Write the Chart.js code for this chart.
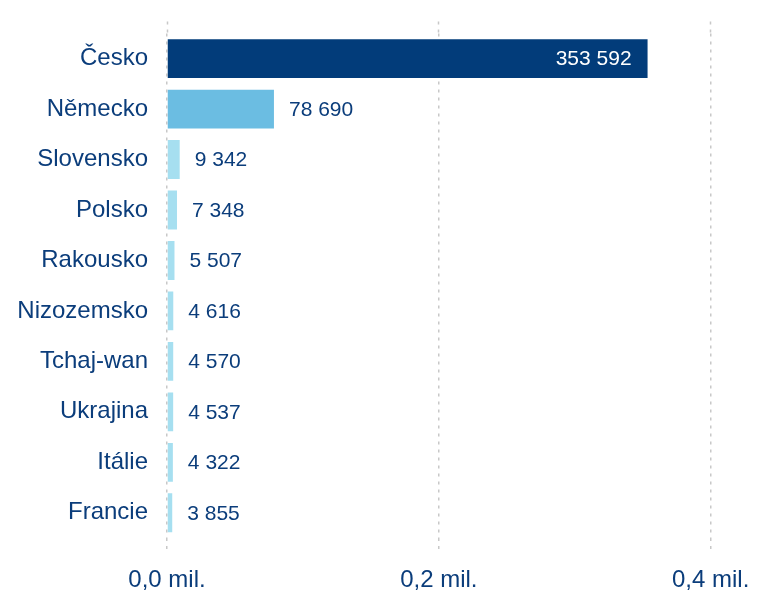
<!DOCTYPE html>
<html>
<head>
<meta charset="utf-8">
<script src="https://cdn.jsdelivr.net/npm/chart.js@4.4.1/dist/chart.umd.min.js"></script>
<style>
  html, body { margin: 0; padding: 0; background: #ffffff; }
  #wrap { width: 780px; height: 592px; }
</style>
</head>
<body>
<div id="wrap"><canvas id="chart"></canvas></div>
<script>
// data
var countries = ['Česko', 'Německo', 'Slovensko', 'Polsko', 'Rakousko', 'Nizozemsko', 'Tchaj-wan', 'Ukrajina', 'Itálie', 'Francie'];
var counts = [353592, 78690, 9342, 7348, 5507, 4616, 4570, 4537, 4322, 3855];
var barColors = ['#023c7a', '#6bbde2', '#a6dff0', '#a6dff0', '#a6dff0', '#a6dff0', '#a6dff0', '#a6dff0', '#a6dff0', '#a6dff0'];
var tickValues = [0, 200000, 400000];

var textColor = '#0b3d7b';
var gridColor = '#c8c8c8';

function fmtNum(n) {
    return String(n).replace(/\B(?=(\d{3})+(?!\d))/g, ' ');
}

function fmtMil(v) {
    return (v / 1000000).toFixed(1).replace('.', ',') + ' mil.';
}

// value labels next to (or inside) the bars
var valueLabels = {
    id: 'valueLabels',
    afterDatasetsDraw: function (chart) {
        var ctx = chart.ctx;
        var meta = chart.getDatasetMeta(0);
        ctx.save();
        ctx.font = '21px "Liberation Sans", Arial, sans-serif';
        ctx.textBaseline = 'middle';
        meta.data.forEach(function (bar, i) {
            var txt = fmtNum(counts[i]);
            if (i === 0) {
                ctx.fillStyle = '#ffffff';
                ctx.textAlign = 'right';
                ctx.fillText(txt, bar.x - 16, bar.y + 1);
            } else {
                ctx.fillStyle = textColor;
                ctx.textAlign = 'left';
                ctx.fillText(txt, bar.x + 15, bar.y + 1);
            }
        });
        ctx.restore();
    }
};

function setTicks(scale) {
    scale.ticks = tickValues.map(function (v) { return { value: v }; });
}

var chartObj = new Chart(document.getElementById('chart'), {
    type: 'bar',
    data: {
        labels: countries,
        datasets: [
            {
                data: counts,
                backgroundColor: barColors,
                borderWidth: 0,
                categoryPercentage: 0.77,
                barPercentage: 1.0
            }
        ]
    },
    plugins: [valueLabels],
    options: {
        indexAxis: 'y',
        responsive: true,
        maintainAspectRatio: false,
        animation: false,
        layout: { padding: { top: 20, right: 15, bottom: 0, left: 0 } },
        plugins: {
            legend: { display: false },
            tooltip: { enabled: false }
        },
        scales: {
            x: {
                position: 'bottom',
                min: 0,
                max: 440000,
                afterBuildTicks: setTicks,
                afterFit: function (scale) { scale.height = 54; },
                border: { display: false, dash: [3, 5] },
                grid: {
                    color: gridColor,
                    lineWidth: 1.5,
                    drawTicks: true,
                    tickLength: 14,
                    tickColor: gridColor,
                    tickWidth: 1.5,
                    tickBorderDash: [3, 5]
                },
                ticks: {
                    padding: 14,
                    autoSkip: false,
                    maxRotation: 0,
                    color: textColor,
                    font: { family: '"Liberation Sans", Arial, sans-serif', size: 24 },
                    callback: function (v) { return fmtMil(v); }
                }
            },
            x2: {
                position: 'top',
                min: 0,
                max: 440000,
                afterBuildTicks: setTicks,
                afterFit: function (scale) { scale.height = 12; },
                border: { display: false },
                grid: {
                    drawOnChartArea: false,
                    drawTicks: true,
                    tickLength: 12,
                    tickColor: gridColor,
                    tickWidth: 1.5,
                    tickBorderDash: [3, 5]
                },
                ticks: {
                    padding: 0,
                    autoSkip: false,
                    callback: function () { return ''; }
                }
            },
            y: {
                afterFit: function (scale) { scale.width = 167; },
                border: { display: false },
                grid: { display: false, drawTicks: false },
                ticks: {
                    padding: 19,
                    color: textColor,
                    font: { family: '"Liberation Sans", Arial, sans-serif', size: 24 }
                }
            }
        }
    }
});
</script>
</body>
</html>
